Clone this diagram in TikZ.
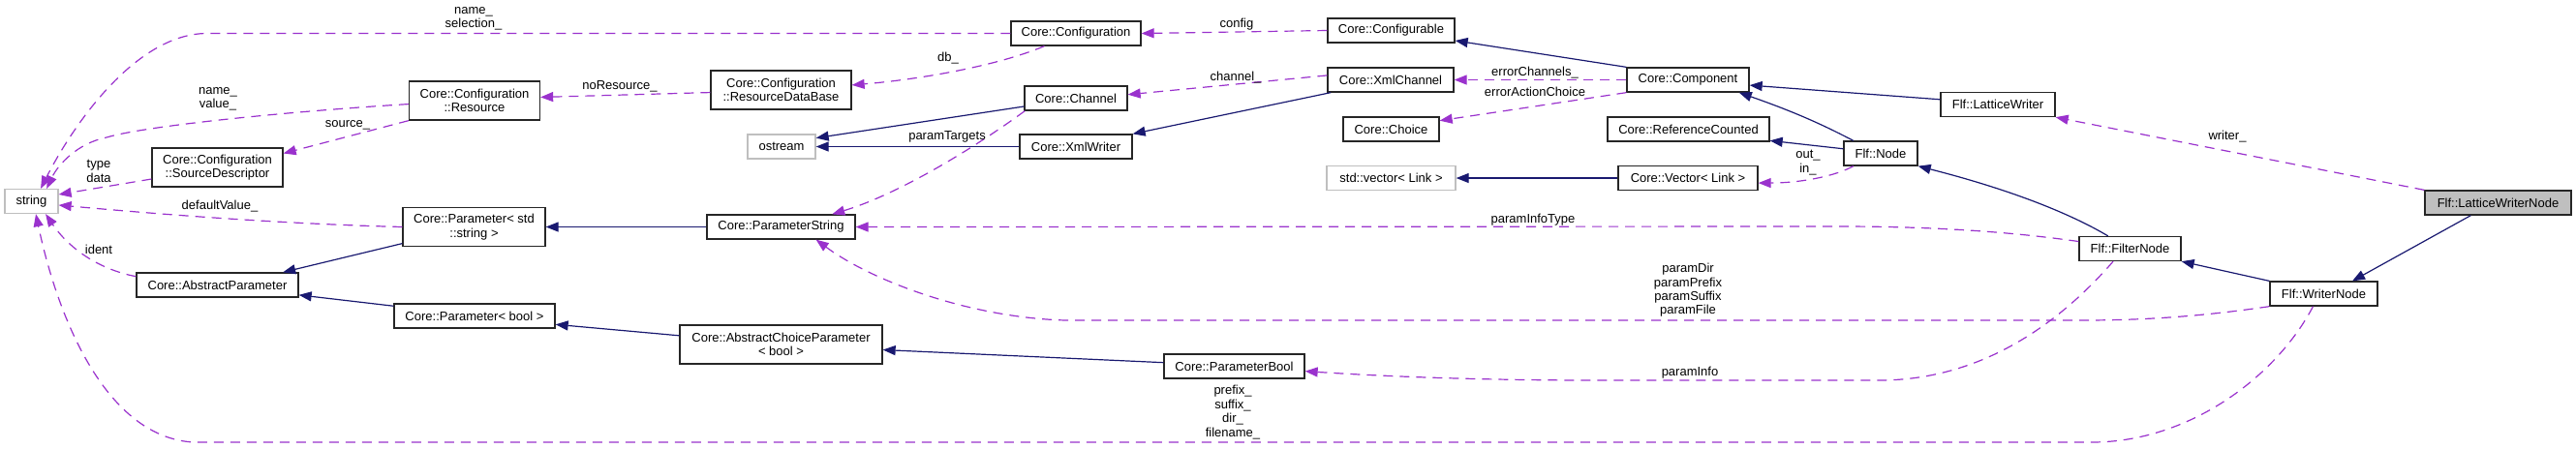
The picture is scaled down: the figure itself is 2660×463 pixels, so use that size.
\documentclass[tikz,border=0pt]{standalone}
\usepackage{fontspec}
\setmainfont{Liberation Sans}
\usetikzlibrary{arrows.meta}
\definecolor{edgeblue}{HTML}{191970}
\definecolor{edgepurple}{HTML}{9A32CD}
\definecolor{boxgray}{HTML}{BFBFBF}

\begin{document}
\begin{tikzpicture}[
    x=0.5pt, y=-0.5pt,
    every node/.style={font=\fontsize{6.5}{7.2}\selectfont},
    cls/.style={rectangle, draw=black!85, fill=white, line width=0.65pt, inner sep=0pt, minimum height=12.5pt, align=center},
    clstall/.style={cls, minimum height=20pt},
    extcls/.style={cls, draw=boxgray},
    maincls/.style={cls, fill=boxgray},
    lbl/.style={align=center, inner sep=0pt},
    inherit/.style={draw=edgeblue, line width=0.6pt, -{Triangle[length=6.5pt, width=5pt]}},
    uses/.style={draw=edgepurple, line width=0.6pt, dash pattern=on 5pt off 3.5pt, -{Triangle[length=6.5pt, width=5pt]}},
]
\useasboundingbox (0,0) rectangle (2660,463);
% classes
\node[extcls, minimum width=27.5pt] (str) at (32.5,208) {string};
\node[clstall, minimum width=67.5pt] (res) at (490,104) {Core::Configuration\\::Resource};
\node[clstall, minimum width=67.5pt] (srcd) at (224.5,173) {Core::Configuration\\::SourceDescriptor};
\node[clstall, minimum width=73.5pt] (pstd) at (489.5,234.5) {Core::Parameter< std\\::string >};
\node[cls, minimum width=83.5pt] (absp) at (224.5,294.5) {Core::AbstractParameter};
\node[cls, minimum width=83pt] (pbool) at (490,326.5) {Core::Parameter< bool >};
\node[clstall, minimum width=72.5pt] (rdb) at (806.5,93) {Core::Configuration\\::ResourceDataBase};
\node[extcls, minimum width=35pt] (ostr) at (807,151.5) {ostream};
\node[cls, minimum width=76.5pt] (pstr) at (806.5,234.5) {Core::ParameterString};
\node[clstall, minimum width=104.5pt] (acp) at (806.5,356) {Core::AbstractChoiceParameter\\< bool >};
\node[cls, minimum width=67pt] (cfg) at (1111,34.5) {Core::Configuration};
\node[cls, minimum width=53pt] (chan) at (1111,101.5) {Core::Channel};
\node[cls, minimum width=58pt] (xmlw) at (1111,151.5) {Core::XmlWriter};
\node[cls, minimum width=65.5pt] (cfgb) at (1436.5,31.5) {Core::Configurable};
\node[cls, minimum width=65pt] (xmlch) at (1436,82.5) {Core::XmlChannel};
\node[cls, minimum width=49.5pt] (choice) at (1436.5,133.5) {Core::Choice};
\node[extcls, minimum width=66.5pt] (stdvec) at (1436.5,184) {std::vector< Link >};
\node[cls, minimum width=72.5pt] (pbstr) at (1274.5,378.5) {Core::ParameterBool};
\node[cls, minimum width=63pt] (comp) at (1743,82.5) {Core::Component};
\node[cls, minimum width=83.5pt] (refc) at (1743.5,133.5) {Core::ReferenceCounted};
\node[cls, minimum width=72pt] (vec) at (1743,184) {Core::Vector< Link >};
\node[cls, minimum width=38pt] (flfnode) at (1942,158.5) {Flf::Node};
\node[cls, minimum width=59pt] (lw) at (2063,108) {Flf::LatticeWriter};
\node[cls, minimum width=52.5pt] (fnode) at (2199.5,257) {Flf::FilterNode};
\node[cls, minimum width=55.5pt] (wnode) at (2399.5,303.5) {Flf::WriterNode};
\node[maincls, minimum width=75.5pt] (lwn) at (2579.5,209.5) {Flf::LatticeWriterNode};
% inheritance
\draw[inherit] (comp.north west) -- (cfgb.-9);
\draw[inherit] (lw.175) -- (comp.-5);
\draw[inherit] (flfnode.155) .. controls (1890,133) and (1860,118) .. (comp.-14);
\draw[inherit] (flfnode.173) -- (refc.-8);
\draw[inherit] (vec.west) -- (stdvec.east);
\draw[inherit] (fnode.150) .. controls (2140,222) and (2080,197) .. (flfnode.south east);
\draw[inherit] (wnode.north west) -- (fnode.south east);
\draw[inherit] (lwn.205) -- (wnode.24);
\draw[inherit] (xmlch.192) -- (xmlw.north east);
\draw[inherit] (chan.189) -- (ostr.14);
\draw[inherit] (xmlw.west) -- (ostr.east);
\draw[inherit] (pstr.west) -- (pstd.east);
\draw[inherit] (pstd.193) -- (absp.11);
\draw[inherit] (pbool.173) -- (absp.-7);
\draw[inherit] (acp.175) -- (pbool.-6);
\draw[inherit] (pbstr.177) -- (acp.-3);
% usage
\draw[uses] (cfg.west) -- (214,34.5) .. controls (140,34.5) and (75,130) .. (str.54);
\draw[uses] (cfgb.west) -- (cfg.east);
\draw[uses] (cfg.202) .. controls (1030,68) and (950,82) .. (rdb.4);
\draw[uses] (rdb.182) -- (res.3);
\draw[uses] (res.183) .. controls (300,115) and (150,130) .. (110,142) .. controls (80,148) and (60,170) .. (str.40);
\draw[uses] (res.south west) -- (srcd.12);
\draw[uses] (srcd.190) -- (str.14);
\draw[uses] (pstd.west) .. controls (280,231) and (150,220) .. (str.-8);
\draw[uses] (absp.174) .. controls (100,278) and (70,255) .. (str.-42);
\draw[uses] (xmlch.176) -- (chan.4);
\draw[uses] (chan.194) .. controls (1010,150) and (930,200) .. (pstr.14);
\draw[uses] (comp.west) -- (xmlch.east);
\draw[uses] (comp.south west) -- (choice.10);
\draw[uses] (flfnode.205) .. controls (1895,182) and (1860,189) .. (vec.-4);
\draw[uses] (lwn.north west) -- (lw.south east);
\draw[uses] (fnode.172) .. controls (2080,240) and (2000,234) .. (1900,234) -- (pstr.east);
\draw[uses] (wnode.south west) .. controls (2280,326) and (2220,331) .. (2150,331) -- (1100,331) .. controls (1000,328) and (900,290) .. (pstr.-20);
\draw[uses] (fnode.217) .. controls (2130,330) and (2050,393) .. (1940,393) -- (1650,393) .. controls (1500,393) and (1400,387) .. (pbstr.-4);
\draw[uses] (wnode.230) .. controls (2350,390) and (2260,457) .. (2160,457) -- (200,457) .. controls (110,452) and (60,330) .. (str.-71);
% edge labels
\node[lbl] (lnamesel) at (489,19) {name\_\\selection\_};
\node[lbl] (lnameval) at (225,102) {name\_\\value\_};
\node[lbl] (lsource) at (359,129) {source\_};
\node[lbl] (ltypedata) at (102,177) {type\\data};
\node[lbl] (ldefval) at (227,213) {defaultValue\_};
\node[lbl] (lident) at (102,258) {ident};
\node[lbl] (lnores) at (640,89) {noResource\_};
\node[lbl] (ldb) at (979,60) {db\_};
\node[lbl] (lparamtgt) at (978,141) {paramTargets};
\node[lbl] (lconfig) at (1277,25) {config};
\node[lbl] (lchannel) at (1276,80) {channel\_};
\node[lbl] (lerrch) at (1585,75) {errorChannels\_};
\node[lbl] (lerrac) at (1585,95) {errorActionChoice};
\node[lbl] (linfotype) at (1583,227) {paramInfoType};
\node[lbl] (loutin) at (1867,168) {out\_\\in\_};
\node[lbl] (lparams) at (1743,300) {paramDir\\paramPrefix\\paramSuffix\\paramFile};
\node[lbl] (linfo) at (1745,385) {paramInfo};
\node[lbl] (lfile) at (1273,426) {prefix\_\\suffix\_\\dir\_\\filename\_};
\node[lbl] (lwriter) at (2300,141) {writer\_};
\end{tikzpicture}
\end{document}
